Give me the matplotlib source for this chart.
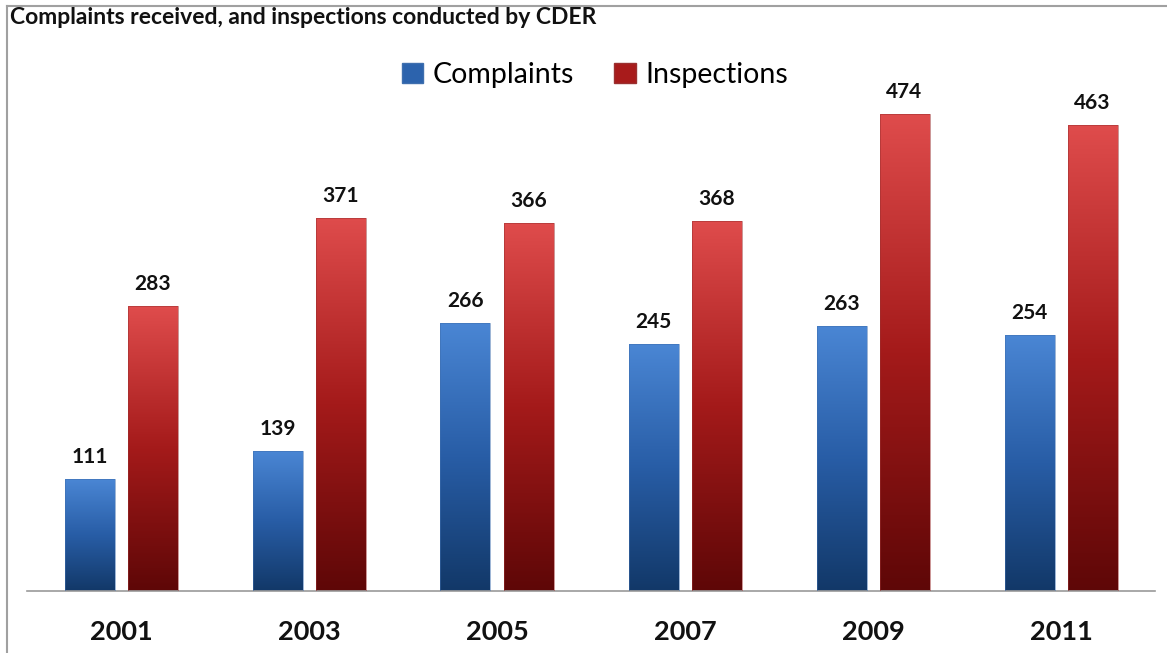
import numpy as np
import matplotlib
matplotlib.use("Agg")
import matplotlib.pyplot as plt
from matplotlib.colors import LinearSegmentedColormap
from matplotlib.patches import Rectangle
from matplotlib.lines import Line2D

years = ["2001", "2003", "2005", "2007", "2009", "2011"]
complaints = [111, 139, 266, 245, 263, 254]
inspections = [283, 371, 366, 368, 474, 463]
series_names = ["Complaints", "Inspections"]
title = "Complaints received, and inspections conducted by CDER"

plt.rcParams['font.family'] = ['Lato', 'DejaVu Sans']

W, H = 1167, 653
fig = plt.figure(figsize=(W / 100, H / 100), dpi=100)
fig.patch.set_facecolor("white")

ax = fig.add_axes([27 / W, (H - 591) / H, 1128 / W, 561 / H])
ax.set_xlim(-0.5, len(years) - 0.5)
ax.set_ylim(0, 557.5)

x = np.arange(len(years))
bw = 50 / 188
off = 31.5 / 188

blue_cmap = LinearSegmentedColormap.from_list("b", ["#123868", "#285da6", "#4a86d4"])
red_cmap = LinearSegmentedColormap.from_list("r", ["#5e0707", "#a41a1a", "#df4c4c"])

bars_c = ax.bar(x - off, complaints, bw, color="none", edgecolor="none")
bars_i = ax.bar(x + off, inspections, bw, color="none", edgecolor="none")

grad = np.linspace(0, 1, 256).reshape(-1, 1)
for bars, cmap, edge in [(bars_c, blue_cmap, "#3f6fae"), (bars_i, red_cmap, "#9a3030")]:
    for b in bars:
        x0, w, h = b.get_x(), b.get_width(), b.get_height()
        im = ax.imshow(grad, cmap=cmap, origin="lower", aspect="auto",
                       extent=[x0, x0 + w, 0, h], zorder=2)
        r = Rectangle((x0, 0), w, h, facecolor="none", edgecolor=edge, lw=0.6,
                      alpha=0.6, zorder=3)
        ax.add_patch(r)
        im.set_clip_path(r)
        ax.text(x0 + w / 2, h + 12, f"{int(h)}", ha="center", va="bottom",
                fontsize=15, fontweight="bold", color="#111111")

for s in ["top", "right", "left"]:
    ax.spines[s].set_visible(False)
ax.spines["bottom"].set_color("#9a9a9a")
ax.spines["bottom"].set_linewidth(1.2)
ax.set_yticks([])
ax.set_xticks(x)
ax.set_xticklabels(years, fontsize=19.5, fontweight="bold", color="#111111")
ax.tick_params(axis="x", length=0, pad=21)

handles = [Rectangle((0, 0), 1, 1, facecolor="#2c63ad", edgecolor="#3f6fae"),
           Rectangle((0, 0), 1, 1, facecolor="#a81b1b", edgecolor="#9a3030")]
fig.legend(handles, series_names, loc="center", bbox_to_anchor=(595 / W, 1 - 75 / H),
           ncol=2, frameon=False, fontsize=20.5, handlelength=0.75, handleheight=0.75,
           handletextpad=0.35, columnspacing=1.4)

fig.text(10 / W, 1 - 18 / H, title, ha="left", va="center", fontsize=16.5,
         fontweight="bold", color="#111111")

fig.add_artist(Line2D([6.5 / W, 6.5 / W], [0, 1 - 5.5 / H], color="#a0a0a0", lw=1.5,
                      transform=fig.transFigure))
fig.add_artist(Line2D([6.5 / W, 1], [1 - 5.5 / H, 1 - 5.5 / H], color="#a0a0a0", lw=1.5,
                      transform=fig.transFigure))

fig.savefig("out.png", dpi=100)
